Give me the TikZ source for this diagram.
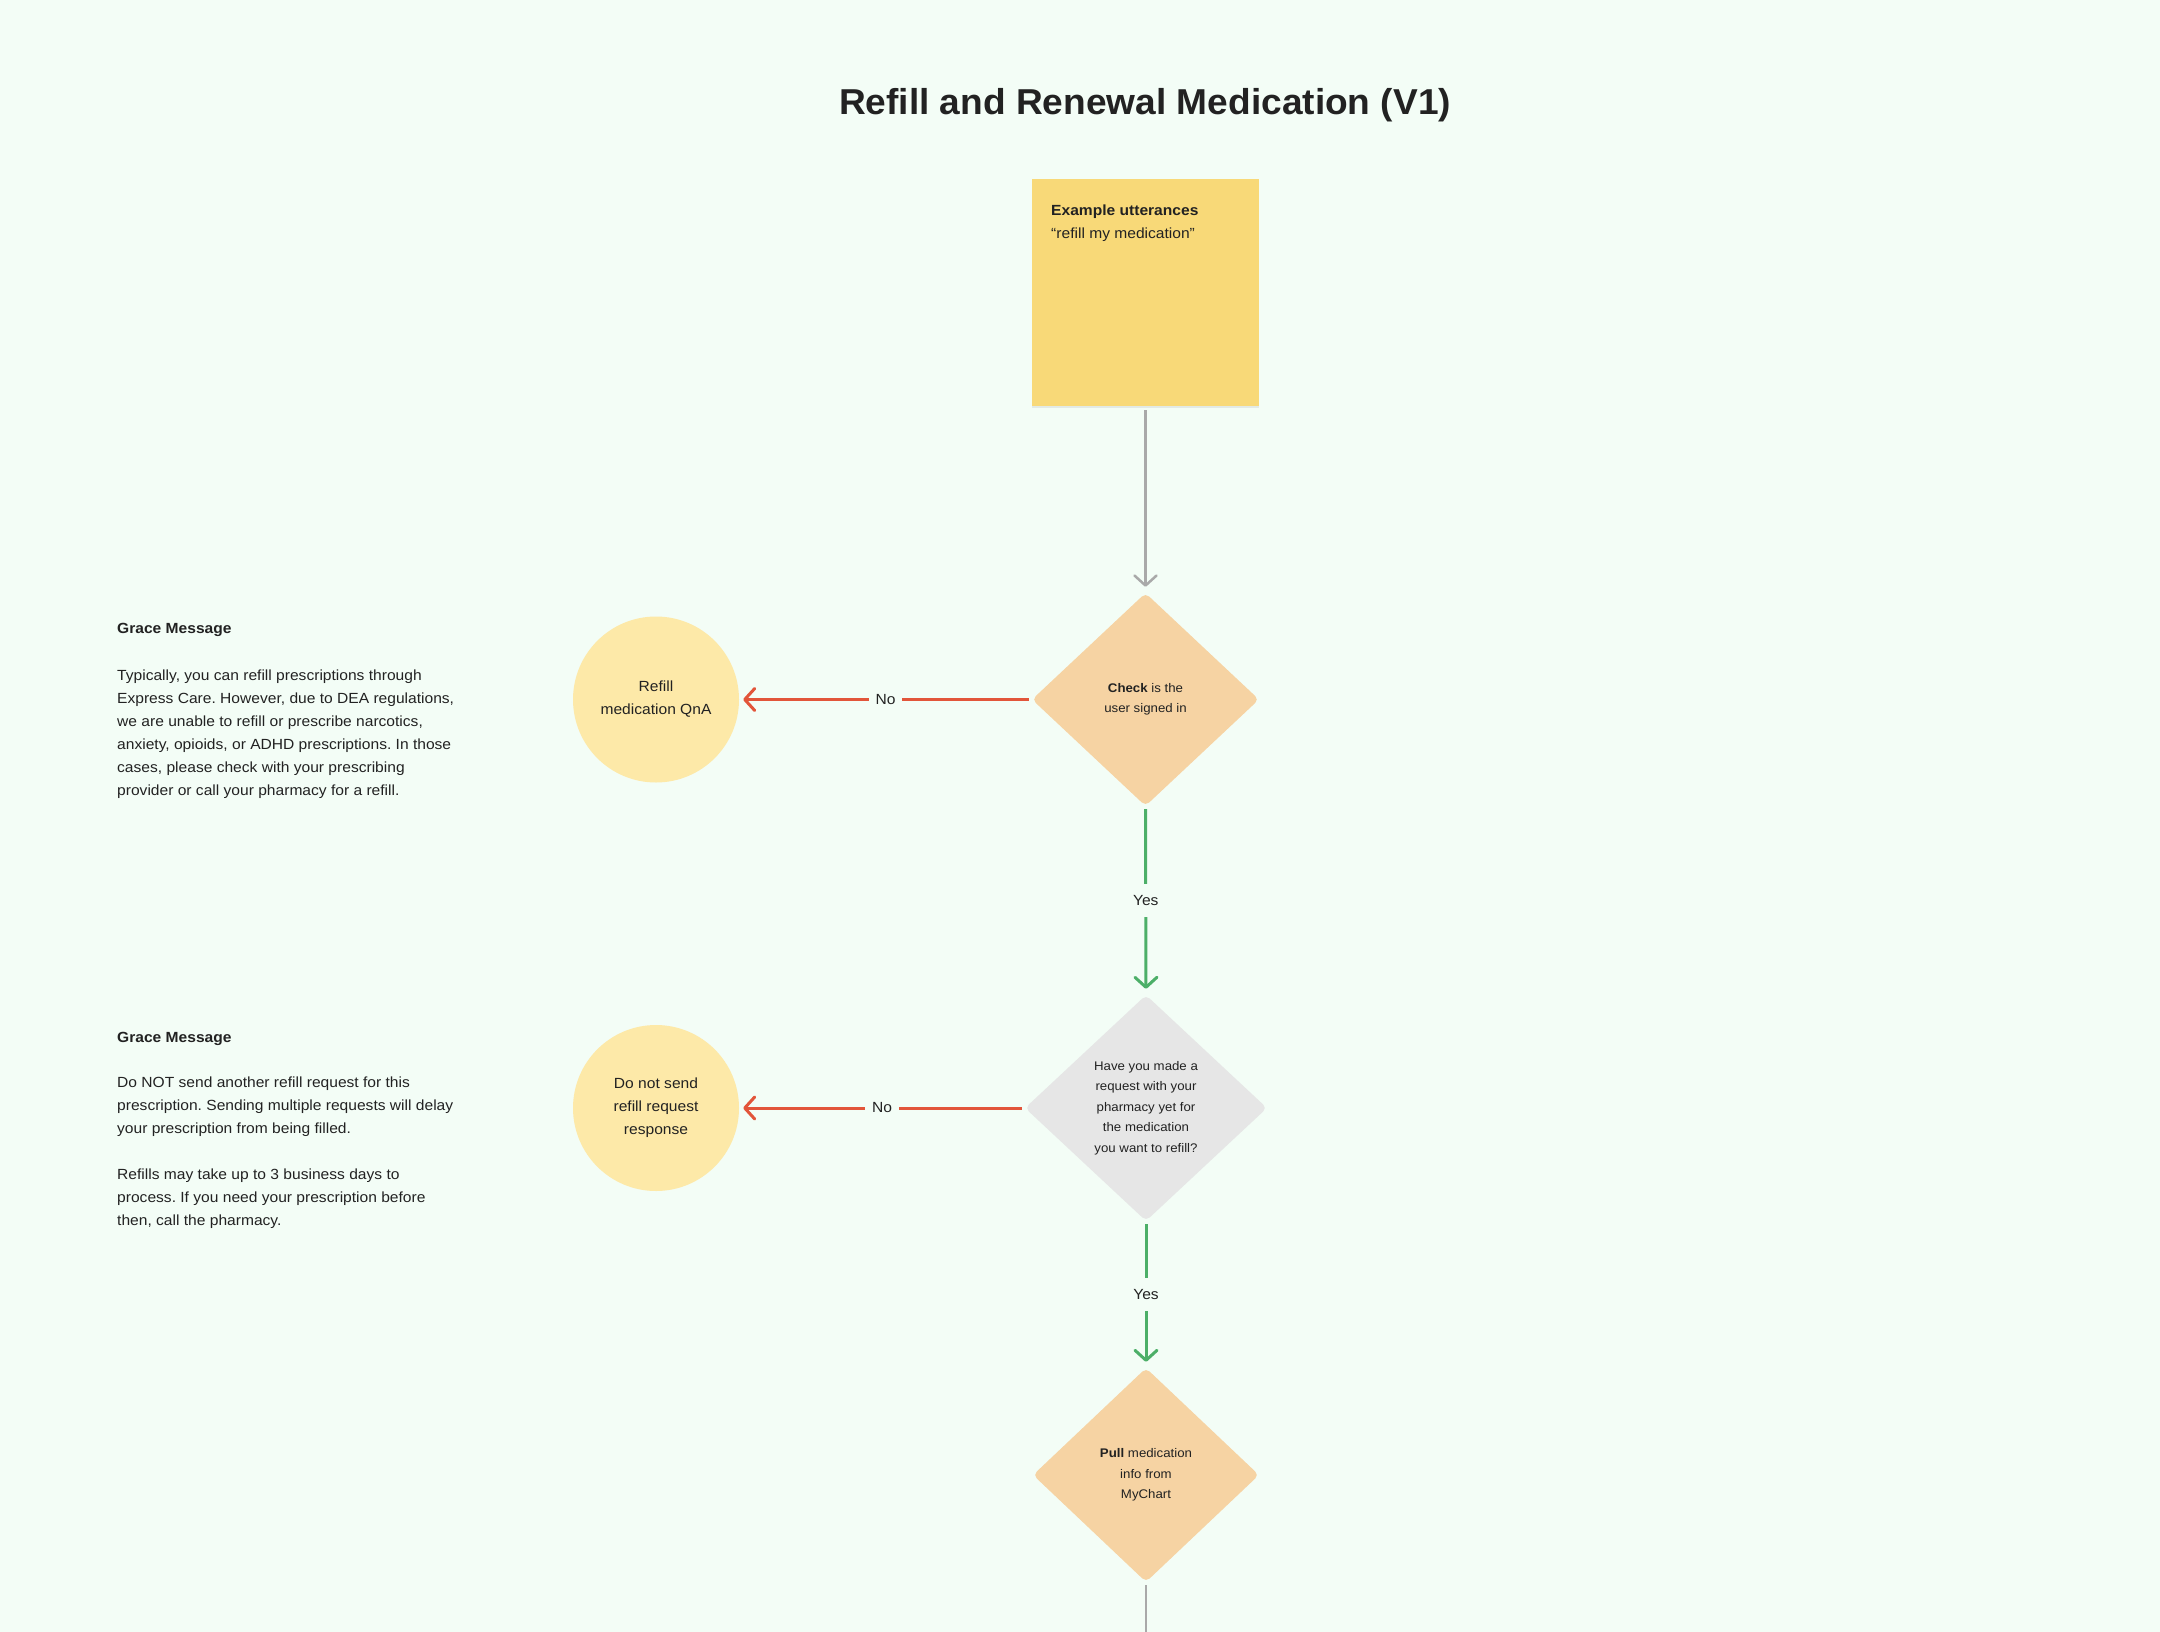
\documentclass[tikz,border=0pt]{standalone}
\usepackage{fontspec}
\setmainfont{Liberation Sans}[FakeStretch=1.06]
\newfontfamily\titlefont{Liberation Sans}[FakeStretch=1.03]
\usetikzlibrary{shapes.geometric,arrows.meta,shadows}
\definecolor{bg}{HTML}{F3FDF6}
\definecolor{txt}{HTML}{222222}
\definecolor{sticky}{HTML}{F8D978}
\definecolor{orangefill}{HTML}{F6D3A3}
\definecolor{circfill}{HTML}{FDE9A8}
\definecolor{grayfill}{HTML}{E6E6E6}
\definecolor{redline}{HTML}{E2553A}
\definecolor{greenline}{HTML}{4CAF68}
\definecolor{grayline}{HTML}{A9A9A9}
\newcommand\bodyfont{\fontsize{14.7}{23}\selectfont}
\newcommand\smallfont{\fontsize{12.5}{20.5}\selectfont}
\frenchspacing
\begin{document}
\begin{tikzpicture}[x=1pt,y=-1pt,
  plain/.style={text=txt, inner sep=0pt},
  decision/.style={diamond, draw=none, inner sep=0pt, rounded corners=5pt, align=center, font=\smallfont, text=txt},
  endcircle/.style={circle, fill=circfill, draw=none, minimum size=166pt, inner sep=0pt, align=center, font=\bodyfont, text=txt},
  conn/.style={line width=3pt, -{Straight Barb[length=10pt,width=22pt,round]}},
  lbl/.style={fill=bg, font=\bodyfont, text=txt, inner xsep=7pt, inner ysep=11pt}
]
\useasboundingbox[fill=bg] (0,0) rectangle (2160,1632);

% title
\node[plain, anchor=base, font=\titlefont\fontsize{36}{40}\selectfont\bfseries] (title) at (1145,115) {Refill and Renewal Medication (V1)};

% sticky note
\node[fill=sticky, minimum width=227pt, minimum height=227pt, inner sep=0pt,
      drop shadow={shadow xshift=0pt, shadow yshift=-2pt, opacity=0.18, fill=black!40}] (sticky) at (1145.5,292.5) {};
\node[plain, anchor=base west, font=\bodyfont\bfseries] (stickyh) at (1051,215) {Example utterances};
\node[plain, anchor=base west, font=\bodyfont] (stickyt) at (1051,238) {“refill my medication”};

% grace message 1 (base anchor = last line's baseline)
\node[plain, anchor=base west, font=\bodyfont\bfseries] (g1h) at (117,633) {Grace Message};
\node[plain, anchor=base west, align=left, font=\bodyfont] (g1p) at (117,795) {Typically, you can refill prescriptions through\\Express Care. However, due to DEA regulations,\\we are unable to refill or prescribe narcotics,\\anxiety, opioids, or ADHD prescriptions. In those\\cases, please check with your prescribing\\provider or call your pharmacy for a refill.};

% grace message 2
\node[plain, anchor=base west, font=\bodyfont\bfseries] (g2h) at (117,1042) {Grace Message};
\node[plain, anchor=base west, align=left, font=\bodyfont] (g2p) at (117,1133) {Do NOT send another refill request for this\\prescription. Sending multiple requests will delay\\your prescription from being filled.};
\node[plain, anchor=base west, align=left, font=\bodyfont] (g2q) at (117,1225) {Refills may take up to 3 business days to\\process. If you need your prescription before\\then, call the pharmacy.};

% decisions
\node[decision, fill=orangefill, minimum width=227pt, minimum height=213pt] (d1) at (1145.5,699.5) {\textbf{Check} is the\\user signed in};
\node[decision, fill=grayfill, minimum width=242pt, minimum height=226pt] (d2) at (1146,1108) {Have you made a\\request with your\\pharmacy yet for\\the medication\\you want to refill?};
\node[decision, fill=orangefill, minimum width=226pt, minimum height=214pt] (d3) at (1146,1475) {\textbf{Pull} medication\\info from\\MyChart};

% end circles
\node[endcircle] (c1) at (656,699.5) {Refill\\medication QnA};
\node[endcircle] (c2) at (656,1108) {Do not send\\refill request\\response};

\coordinate (bottom) at (1146,1632);

% connectors
\draw[conn, draw=grayline, line width=2.5pt, shorten <=4pt, shorten >=6pt] (sticky.south) -- (d1.north);
\draw[conn, draw=redline, shorten <=3pt, shorten >=4pt] (d1.west) -- node[lbl] {No} (c1.east);
\draw[conn, draw=greenline, shorten <=3pt, shorten >=6pt] (d1.south) -- node[lbl] {Yes} (d2.north);
\draw[conn, draw=redline, shorten <=3pt, shorten >=4pt] (d2.west) -- node[lbl] {No} (c2.east);
\draw[conn, draw=greenline, shorten <=3pt, shorten >=6pt] (d2.south) -- node[lbl] {Yes} (d3.north);
\draw[draw=grayline, line width=2.5pt, shorten <=3pt] (d3.south) -- (bottom);
\end{tikzpicture}
\end{document}
